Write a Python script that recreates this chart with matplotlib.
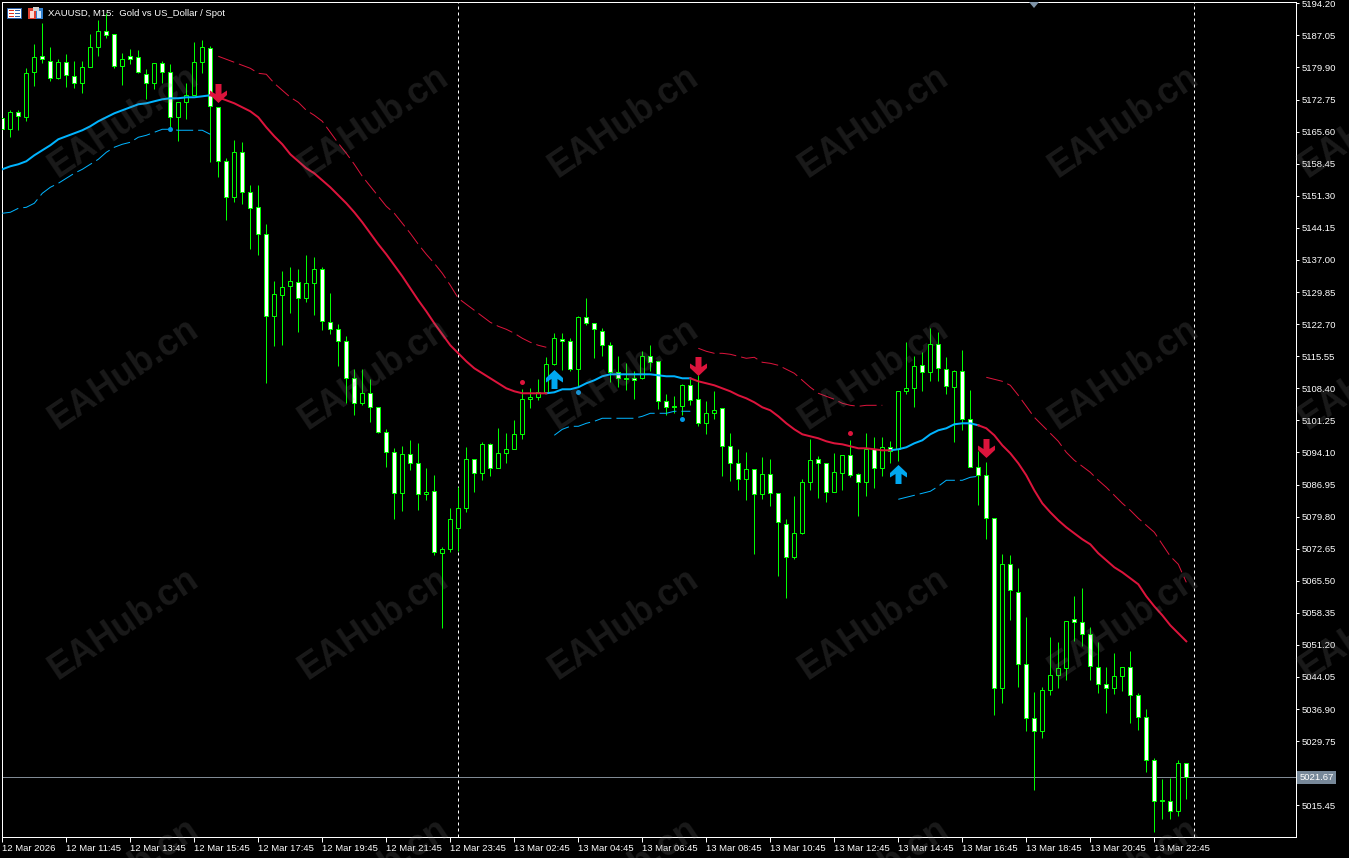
import matplotlib
matplotlib.use("Agg")
import matplotlib.pyplot as plt
from matplotlib.path import Path
from matplotlib.patches import Rectangle, Polygon

plt.rcParams['font.family'] = ['Liberation Sans', 'DejaVu Sans']

# candle data. w = falling (white body), b = rising (black body)
kinds = ("wbwbbwwbww" "bbbwwbwwwb" "wwbbbbwwwb" "wwwwbbbwbb" "wwwwwbwwww"
         "bwwbwbbbbw" "bwbbbbbbbb" "wwbwwwwwww" "bwwwwbwwbb" "wwwbwbwwwb"
         "bbwwbbwwbw" "bwbbbwbwwb" "wwwwwbwwww" "bbbbwwwwwb" "bwwwwwwbw")
highs = [5170.35, 5170.35, 5170.35, 5179.71, 5185.06, 5189.74, 5184.39, 5181.72, 5182.83, 5181.27,
         5181.27, 5187.29, 5190.41, 5191.97, 5187.29, 5183.06, 5183.95, 5183.73, 5179.49, 5180.83,
         5181.27, 5180.61, 5172.14, 5176.37, 5185.51, 5185.95, 5184.62, 5171.02, 5159.65, 5163.67,
         5163.22, 5153.64, 5153.64, 5144.94, 5132.24, 5134.47, 5135.36, 5134.92, 5138.04, 5137.59,
         5135.36, 5129.57, 5122.66, 5119.98, 5112.63, 5112.63, 5110.40, 5104.16, 5099.25, 5095.02,
         5095.47, 5096.80, 5096.13, 5090.56, 5089.00, 5072.95, 5081.65, 5086.33, 5095.24, 5092.57,
         5096.36, 5096.13, 5099.48, 5098.36, 5101.26, 5108.17, 5108.39, 5110.40, 5115.30, 5120.65,
         5120.65, 5119.54, 5124.44, 5128.45, 5122.88, 5121.77, 5118.65, 5115.52, 5113.96, 5112.18,
         5116.64, 5117.98, 5114.41, 5107.06, 5106.61, 5109.28, 5110.40, 5111.29, 5105.50, 5107.72,
         5103.93, 5098.36, 5094.80, 5094.13, 5090.34, 5093.01, 5092.57, 5084.99, 5079.20, 5084.32,
         5088.11, 5097.03, 5093.24, 5091.68, 5093.91, 5093.46, 5096.80, 5089.45, 5098.36, 5097.47,
         5097.47, 5096.58, 5107.72, 5118.65, 5115.52, 5116.42, 5121.77, 5120.87, 5115.30, 5112.40,
         5116.86, 5107.95, 5094.35, 5091.90, 5079.42, 5071.39, 5071.17, 5068.27, 5057.35, 5040.64,
         5041.75, 5052.90, 5051.78, 5056.46, 5062.03, 5063.82, 5055.12, 5051.78, 5046.21, 5049.33,
         5046.21, 5049.77, 5040.41, 5036.85, 5025.93, 5021.25, 5021.47, 5025.48, 5024.81]
body_top = [5168.57, 5169.91, 5169.91, 5178.60, 5182.17, 5182.39, 5181.27, 5181.05, 5181.05, 5177.93,
            5179.94, 5184.39, 5187.96, 5187.96, 5187.29, 5181.72, 5182.39, 5182.17, 5178.38, 5180.83,
            5180.83, 5178.82, 5172.14, 5173.70, 5181.05, 5184.39, 5184.17, 5171.02, 5158.99, 5160.99,
            5160.99, 5152.08, 5148.73, 5142.72, 5129.34, 5130.90, 5132.24, 5132.02, 5131.79, 5134.92,
            5134.92, 5123.10, 5121.54, 5118.87, 5110.62, 5107.28, 5107.28, 5104.16, 5098.59, 5094.13,
            5093.68, 5093.68, 5091.68, 5085.21, 5085.44, 5072.51, 5079.20, 5081.65, 5092.57, 5092.57,
            5095.91, 5095.91, 5093.91, 5094.80, 5098.14, 5105.94, 5106.39, 5107.50, 5113.74, 5119.54,
            5119.31, 5118.87, 5124.22, 5124.22, 5122.88, 5121.10, 5117.98, 5111.96, 5110.62, 5110.62,
            5115.52, 5115.52, 5114.41, 5105.50, 5104.38, 5109.06, 5109.06, 5105.94, 5102.82, 5103.49,
            5103.93, 5095.47, 5091.68, 5090.34, 5090.34, 5089.22, 5089.22, 5084.99, 5078.08, 5076.07,
            5087.44, 5092.35, 5092.57, 5091.68, 5089.67, 5093.46, 5093.46, 5089.22, 5094.80, 5094.80,
            5095.24, 5095.24, 5107.72, 5108.39, 5113.30, 5113.52, 5118.20, 5118.20, 5112.63, 5112.18,
            5112.18, 5101.48, 5090.79, 5089.00, 5079.42, 5069.17, 5069.17, 5062.93, 5046.88, 5034.84,
            5041.08, 5044.43, 5045.99, 5056.46, 5056.91, 5056.24, 5053.56, 5046.21, 5042.42, 5044.20,
            5046.21, 5046.21, 5039.97, 5035.07, 5025.48, 5016.57, 5016.34, 5024.81, 5024.81]
body_bot = [5166.12, 5166.12, 5169.02, 5168.79, 5178.82, 5181.72, 5177.49, 5177.49, 5178.15, 5176.37,
            5176.37, 5179.94, 5184.39, 5187.07, 5180.16, 5180.16, 5181.72, 5178.82, 5176.37, 5176.37,
            5178.82, 5168.79, 5168.79, 5172.14, 5173.70, 5181.05, 5171.24, 5158.99, 5150.96, 5150.96,
            5152.08, 5148.51, 5142.72, 5124.44, 5124.44, 5129.12, 5131.13, 5128.45, 5128.45, 5131.79,
            5123.33, 5121.54, 5118.87, 5110.62, 5105.05, 5105.05, 5104.16, 5098.59, 5094.13, 5084.99,
            5084.99, 5091.68, 5084.77, 5084.77, 5071.84, 5071.62, 5072.51, 5077.19, 5081.65, 5089.45,
            5089.45, 5090.56, 5090.56, 5093.91, 5094.80, 5098.14, 5105.94, 5106.39, 5107.50, 5113.74,
            5118.87, 5112.63, 5112.63, 5122.88, 5121.54, 5117.98, 5111.96, 5110.62, 5110.40, 5110.18,
            5110.62, 5114.19, 5105.50, 5104.16, 5104.16, 5104.38, 5105.72, 5100.59, 5100.59, 5102.82,
            5095.47, 5091.68, 5088.11, 5088.11, 5084.77, 5084.77, 5084.99, 5078.53, 5070.73, 5070.73,
            5076.07, 5087.44, 5091.68, 5085.21, 5085.21, 5089.45, 5089.00, 5087.44, 5087.44, 5090.56,
            5090.56, 5094.35, 5094.80, 5107.72, 5108.39, 5111.96, 5111.96, 5112.85, 5108.84, 5108.62,
            5101.48, 5090.79, 5089.00, 5079.42, 5041.53, 5041.53, 5063.37, 5046.88, 5034.84, 5031.94,
            5031.94, 5041.08, 5044.43, 5045.99, 5056.24, 5053.56, 5046.43, 5042.42, 5041.53, 5041.53,
            5044.20, 5039.97, 5035.07, 5025.48, 5016.34, 5016.34, 5014.11, 5014.11, 5021.69]
lows = [5165.23, 5164.34, 5165.90, 5167.90, 5175.70, 5180.83, 5176.82, 5177.26, 5175.48, 5175.26,
        5174.14, 5179.94, 5182.39, 5186.40, 5179.71, 5175.93, 5180.61, 5178.60, 5172.80, 5175.03,
        5176.37, 5166.34, 5163.44, 5168.35, 5173.70, 5178.60, 5158.76, 5155.42, 5145.84, 5149.85,
        5149.40, 5139.37, 5138.04, 5109.51, 5117.75, 5117.98, 5125.11, 5120.87, 5127.56, 5124.66,
        5121.32, 5120.43, 5113.30, 5105.05, 5102.37, 5104.60, 5100.81, 5098.36, 5090.79, 5079.20,
        5080.98, 5090.12, 5081.20, 5083.43, 5071.17, 5054.90, 5071.84, 5072.06, 5080.76, 5085.21,
        5087.89, 5088.78, 5090.56, 5091.68, 5094.80, 5097.03, 5103.93, 5105.72, 5107.28, 5113.52,
        5112.40, 5112.18, 5108.62, 5122.43, 5115.08, 5115.52, 5109.73, 5108.62, 5107.95, 5105.94,
        5110.40, 5112.18, 5103.71, 5102.37, 5102.82, 5102.37, 5104.60, 5099.92, 5098.14, 5101.48,
        5088.78, 5087.66, 5085.66, 5083.43, 5071.39, 5083.65, 5082.09, 5066.49, 5061.59, 5070.28,
        5075.85, 5085.66, 5083.88, 5082.98, 5085.21, 5085.66, 5088.56, 5079.86, 5084.32, 5086.10,
        5088.78, 5091.68, 5092.12, 5107.06, 5104.16, 5107.72, 5109.95, 5109.95, 5107.06, 5096.36,
        5099.03, 5090.79, 5082.32, 5074.74, 5035.51, 5038.19, 5056.68, 5041.75, 5031.94, 5018.79,
        5030.38, 5039.97, 5041.53, 5043.31, 5052.00, 5050.89, 5043.31, 5040.41, 5035.96, 5040.19,
        5040.86, 5033.73, 5032.17, 5022.81, 5009.43, 5012.33, 5012.33, 5013.00, 5016.79]

# trend line, one value per bar
trend = [5157.20, 5157.87, 5158.32, 5158.99, 5160.32, 5161.44, 5162.55, 5163.89, 5164.56, 5165.23,
         5165.90, 5166.79, 5167.90, 5168.79, 5169.68, 5170.35, 5171.02, 5171.69, 5171.91, 5172.36,
         5172.80, 5173.03, 5173.03, 5173.25, 5173.25, 5173.47, 5173.70, 5173.25, 5172.58, 5171.91,
         5171.02, 5170.13, 5168.79, 5166.56, 5164.56, 5162.78, 5160.55, 5158.99, 5157.43, 5156.31,
         5154.75, 5153.19, 5151.41, 5149.63, 5147.62, 5145.39, 5142.94, 5140.49, 5138.26, 5135.81,
         5133.36, 5130.68, 5128.01, 5125.55, 5122.88, 5120.43, 5117.98, 5116.19, 5114.41, 5112.85,
         5111.74, 5110.62, 5109.51, 5108.39, 5107.72, 5107.28, 5107.28, 5107.28, 5107.28, 5107.50,
         5108.17, 5108.17, 5108.62, 5109.51, 5110.18, 5111.07, 5111.51, 5111.51, 5111.51, 5111.51,
         5111.51, 5111.51, 5111.29, 5111.07, 5111.07, 5110.62, 5110.62, 5109.95, 5109.51, 5109.06,
         5108.39, 5107.72, 5106.83, 5106.16, 5105.27, 5104.16, 5103.49, 5102.15, 5100.59, 5099.25,
         5098.14, 5097.69, 5097.25, 5096.58, 5096.13, 5095.91, 5095.47, 5095.02, 5095.02, 5094.80,
         5094.57, 5094.57, 5094.80, 5095.24, 5096.13, 5096.80, 5098.14, 5099.03, 5099.48, 5100.37,
         5100.59, 5100.59, 5100.15, 5099.48, 5097.92, 5095.69, 5093.91, 5091.68, 5089.00, 5085.66,
         5082.76, 5080.76, 5078.97, 5077.41, 5076.07, 5074.74, 5073.62, 5071.62, 5070.06, 5068.50,
         5067.38, 5066.05, 5064.71, 5062.03, 5059.80, 5057.80, 5055.57, 5053.79, 5052.00]
trend_up = [(0, 26), (68, 86), (111, 122)]
trend_down = [(26, 68), (86, 111), (122, 148)]

# broken channel lines: first bar, then values
lower_1 = (0, [5147.40, 5147.62, 5148.51, 5148.73, 5149.63, 5151.85, 5153.19, 5154.08, 5155.20, 5156.31,
               5157.20, 5158.32, 5159.43, 5160.99, 5162.11, 5162.78, 5163.22, 5164.34, 5164.78, 5165.45,
               5166.12, 5166.12, 5165.90, 5165.90, 5165.90, 5165.90, 5165.00])
lower_2 = (69, [5097.92, 5099.25, 5099.92, 5099.92, 5100.59, 5101.04, 5101.71, 5101.71, 5101.71, 5101.71,
                5101.71, 5102.15, 5102.82, 5102.82, 5102.82, 5103.27, 5103.27, 5103.27])
lower_3 = (112, [5083.65, 5084.10, 5084.54, 5084.99, 5085.44, 5086.55, 5087.89, 5087.89, 5087.89, 5088.56,
                 5088.78])
upper_1 = (27, [5182.39, 5181.72, 5181.05, 5180.38, 5179.71, 5178.60, 5178.38, 5176.37, 5174.81, 5173.25,
                5172.14, 5170.35, 5169.24, 5167.90, 5165.45, 5163.00, 5160.77, 5158.32, 5155.64, 5153.41,
                5151.19, 5148.96, 5147.40, 5145.17, 5142.94, 5140.49, 5138.26, 5136.25, 5134.02, 5131.35,
                5128.45, 5127.11, 5125.78, 5124.44, 5123.10, 5122.21, 5121.54, 5120.65, 5119.54, 5118.65,
                5117.98, 5117.53])
upper_2 = (87, [5117.31, 5116.64, 5116.19, 5116.19, 5115.97, 5115.52, 5115.08, 5115.30, 5114.19, 5113.96,
                5113.52, 5112.63, 5111.74, 5110.18, 5108.62, 5107.28, 5106.61, 5105.94, 5105.05, 5104.60,
                5104.38, 5104.60, 5104.60, 5104.60])
upper_3 = (123, [5110.84, 5110.40, 5109.95, 5109.06, 5106.83, 5104.38, 5101.93, 5100.15, 5098.36, 5096.58,
                 5094.13, 5092.35, 5091.01, 5089.67, 5087.89, 5086.33, 5084.54, 5082.76, 5081.20, 5079.42,
                 5077.86, 5076.30, 5073.62, 5070.95, 5069.17, 5065.15])

# signals
down_bars = [27, 87, 123]
down_prices = [5174.14, 5113.30, 5095.02]
up_bars = [69, 112]
up_prices = [5110.51, 5089.22]
blue_dot_bars = [21, 72, 85]
blue_dot_prices = [5166.12, 5107.50, 5101.48]
red_dot_bars = [65, 106]
red_dot_prices = [5109.73, 5098.36]

# axes
time_labels = ["12 Mar 2026", "12 Mar 11:45", "12 Mar 13:45", "12 Mar 15:45", "12 Mar 17:45", "12 Mar 19:45",
               "12 Mar 21:45", "12 Mar 23:45", "13 Mar 02:45", "13 Mar 04:45", "13 Mar 06:45", "13 Mar 08:45",
               "13 Mar 10:45", "13 Mar 12:45", "13 Mar 14:45", "13 Mar 16:45", "13 Mar 18:45", "13 Mar 20:45",
               "13 Mar 22:45"]
price_ticks = ["5015.45", "5022.60", "5029.75", "5036.90", "5044.05", "5051.20", "5058.35", "5065.50", "5072.65",
               "5079.80", "5086.95", "5094.10", "5101.25", "5108.40", "5115.55", "5122.70", "5129.85", "5137.00",
               "5144.15", "5151.30", "5158.45", "5165.60", "5172.75", "5179.90", "5187.05", "5194.20"]
last_price = 5021.67
period_bars = [57, 149]

W, H = 1349, 858
RED = "#dc143c"
BLUE = "#00b4ff"
ARROW_BLUE = "#00a8f0"
GREEN = "#00ff00"
PX = 0.72  # one pixel in points at dpi 100
TXT = 6.8

fig = plt.figure(figsize=(W / 100, H / 100), dpi=100, facecolor="black")
ax = fig.add_axes([2.3 / W, (H - 837.3) / H, 1294 / W, 835 / H], facecolor="black")
ax.set_xlim(0, 1294 / 8)
ax.set_ylim(5008.32, 5194.42)

# candles
bars = list(range(len(highs)))
ax.vlines(bars, lows, highs, colors=GREEN, linewidth=PX, zorder=2)
heights = [t - b for t, b in zip(body_top, body_bot)]
fills = ["white" if k == "w" else "black" for k in kinds]
ax.bar(bars, heights, width=0.5, bottom=body_bot, color=fills, edgecolor=GREEN, linewidth=PX, zorder=3)

# period separators and current price
for b in period_bars:
    ax.axvline(b, color="white", lw=PX, ls=(0, (3, 3)), zorder=1)
ax.axhline(last_price, color="#808a94", lw=PX, zorder=1)

# trend line
for start, end in trend_up:
    ax.plot(bars[start:end + 1], trend[start:end + 1], color=BLUE, lw=2 * PX, zorder=4)
for start, end in trend_down:
    ax.plot(bars[start:end + 1], trend[start:end + 1], color=RED, lw=2 * PX, zorder=4)

# channel
for start, vals in [lower_1, lower_2, lower_3]:
    ax.plot(range(start, start + len(vals)), vals, color=BLUE, lw=PX, ls=(0, (17, 5)), zorder=4)
for start, vals in [upper_1, upper_2, upper_3]:
    ax.plot(range(start, start + len(vals)), vals, color=RED, lw=PX, ls=(0, (17, 5)), zorder=4)

# arrow markers
arrow_down = Path([(-3, 9.5), (3, 9.5), (3, -0.5), (8.5, 3), (8.5, -1.5), (0, -9.5), (-8.5, -1.5), (-8.5, 3),
                   (-3, -0.5), (-3, 9.5)], closed=True)
arrow_up = Path([(x, -y) for x, y in arrow_down.vertices], closed=True)
ax.plot(down_bars, down_prices, ls="none", marker=arrow_down, ms=19 * PX, mfc=RED, mew=0, zorder=5)
ax.plot(up_bars, up_prices, ls="none", marker=arrow_up, ms=19 * PX, mfc=ARROW_BLUE, mew=0, zorder=5)
ax.plot(blue_dot_bars, blue_dot_prices, ls="none", marker="o", ms=5 * PX, mfc="#0098e8", mew=0, zorder=5)
ax.plot(red_dot_bars, red_dot_prices, ls="none", marker="o", ms=5 * PX, mfc=RED, mew=0, zorder=5)

# axis styling
for s in ax.spines.values():
    s.set_color("white")
    s.set_linewidth(PX)
ax.yaxis.tick_right()
ax.set_xticks(range(0, 8 * len(time_labels), 8))
ax.set_xticklabels(time_labels, ha="left")
ax.set_yticks([float(p) for p in price_ticks])
ax.set_yticklabels(price_ticks)
ax.tick_params(axis="x", colors="white", length=5 * PX, width=PX, labelsize=TXT, pad=1.5)
ax.tick_params(axis="y", colors="white", length=3 * PX, width=PX, labelsize=TXT, pad=1.5)

ax.text(1.0025, last_price, f"{last_price:.2f}", transform=ax.get_yaxis_transform(), color="white", fontsize=TXT,
        va="center", ha="left", zorder=6, clip_on=False,
        bbox=dict(boxstyle="square,pad=0.22", fc="#778899", ec="#778899", lw=0))


def px_rect(x, y, w, h, color):
    fig.add_artist(Rectangle((x / W, 1 - (y + h) / H), w / W, h / H, transform=fig.transFigure, fc=color, ec="none"))


# header: the two toolbar icons and the symbol text
px_rect(7, 8, 15, 11, "#2a5fa8")
px_rect(8, 9, 13, 9, "white")
for row in (10, 13, 16):
    px_rect(9, row, 5, 1, "#e03020")
    px_rect(15, row, 5, 1, "#2a5fa8")
px_rect(28, 8, 8, 11, "#e04030")
px_rect(36, 8, 7, 11, "#3080d0")
px_rect(30, 11, 4, 7, "#ffd8d0")
px_rect(37, 11, 4, 7, "#d0e8ff")
px_rect(33, 7, 6, 4, "#d0d0d0")
fig.text(48 / W, 1 - 13.5 / H, "XAUUSD, M15:  Gold vs US_Dollar / Spot", color="white", fontsize=TXT, va="center")

# small grey shift marker on the top edge
fig.add_artist(Polygon([(1029 / W, 1 - 2 / H), (1039 / W, 1 - 2 / H), (1034 / W, 1 - 8 / H)], closed=True,
                       transform=fig.transFigure, fc="#7f94a8", ec="none", zorder=5))

# watermark grid across the whole image
for row_y in (122, 374, 624, 874):
    for col_x in (124, 374, 624, 874, 1124, 1374):
        fig.text(col_x / W, 1 - row_y / H, "EAHub.cn", family="Liberation Sans", weight="bold", fontsize=26,
                 color="#808080", alpha=0.2, rotation=34, ha="center", va="center", rotation_mode="anchor",
                 zorder=10)

fig.savefig("out.png", dpi=100, facecolor="black")
